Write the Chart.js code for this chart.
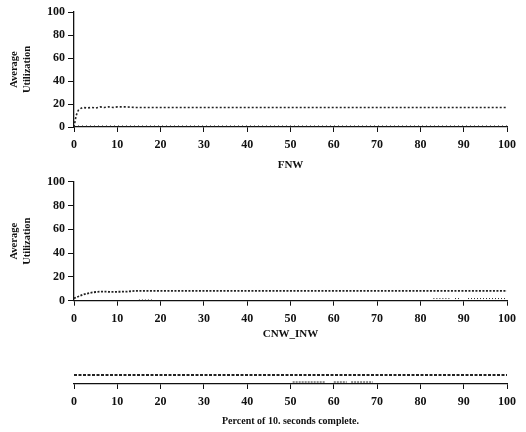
<!DOCTYPE html>
<html><head><meta charset="utf-8">
<script src="https://cdn.jsdelivr.net/npm/chart.js@4/dist/chart.umd.min.js"></script>
<style>
body{margin:0;background:#fff;}
#wrap{position:relative;width:526px;height:432px;background:#fff;}
canvas{position:absolute;left:0;}
</style>
</head><body><div id="wrap">
<canvas id="c1" width="526" height="180" style="top:0px"></canvas>
<canvas id="c2" width="526" height="180" style="top:170px"></canvas>
<canvas id="c3" width="526" height="77" style="top:355px"></canvas>
</div>
<script>
// ---- data ----
const percentX = [0, 0.5, 1, 1.5, 2, 3, 4, 5, 6, 7, 8, 9, 10, 12, 14, 16, 18, 20, 25, 30, 35, 40, 45, 50, 55, 60, 65, 70, 75, 80, 85, 90, 95, 100];
const fnwUtil  = [0, 10, 14.5, 16, 17, 16.5, 17, 16.5, 17.5, 17, 17.5, 17, 17.5, 17.5, 17, 17, 17, 17, 17, 17, 17, 17, 17, 17, 17, 17, 17, 17, 17, 17, 17, 17, 17, 17];
const fnwLow   = [0.7, 0.7, 0.7, 0.7, 0.7, 0.7, 0.7, 0.7, 0.7, 0.7, 0.7, 0.7, 0.7, 0.7, 0.7, 0.7, 0.7, 0.7, 0.7, 0.7, 0.7, 0.7, 0.7, 0.7, 0.7, 0.7, 0.7, 0.7, 0.7, 0.7, 0.7, 0.7, 0.7, 0.7];
const cnwUtil  = [2, 2.8, 3.5, 4.3, 5, 6, 6.8, 7.3, 7.6, 7.6, 7.5, 7.5, 7.5, 7.6, 8.2, 8.3, 8.3, 8.3, 8.3, 8.3, 8.3, 8.3, 8.3, 8.3, 8.3, 8.3, 8.3, 8.3, 8.3, 8.3, 8.3, 8.3, 8.3, 8.3];
const cnwLowX  = [15, 16.5, 18, 18.1, 83, 85, 87, 87.1, 88, 89, 89.1, 91, 95, 100];
const cnwLow   = [0.6, 0.6, 0.6, null, 1.8, 1.8, 1.8, null, 1.8, 1.8, null, 1.8, 1.8, 1.8];
const thirdX   = [0, 10, 20, 30, 40, 50, 60, 70, 80, 90, 100];
const thirdLine = [50, 50, 50, 50, 50, 50, 50, 50, 50, 50, 50];
const thirdLowX = [50.5, 58, 58.1, 60, 63, 63.1, 64, 69];
const thirdLow  = [11, 11, null, 11, 11, null, 11, 11];
const xTickValues = [0, 10, 20, 30, 40, 50, 60, 70, 80, 90, 100];
const yTickValues = [0, 20, 40, 60, 80, 100];
const titles = ['FNW', 'CNW_INW', 'Percent of 10. seconds complete.'];
const yTitle = ['Average', 'Utilization'];

const pts = (xs, ys) => xs.map((x, i) => ({x: x, y: ys[i]}));

Chart.defaults.font.family = "'Liberation Serif', 'Times New Roman', serif";
Chart.defaults.font.weight = 'bold';
Chart.defaults.color = '#111';

function xScale(h, title, tsize, pb) {
  return {
    type: 'linear', min: 0, max: 100,
    afterBuildTicks: s => { s.ticks = xTickValues.map(v => ({value: v})); },
    afterFit: s => { s.height = h; },
    ticks: {font: {size: 12, weight: 'bold'}, padding: 6, maxRotation: 0, color: '#111'},
    grid: {drawOnChartArea: false, drawTicks: true, tickLength: 5, color: '#111', tickWidth: 1},
    border: {display: true, color: '#111', width: 1.3},
    title: {display: true, text: title, font: {size: tsize, weight: 'bold'}, color: '#111', padding: {top: 0, bottom: pb}}
  };
}
function yScale(show) {
  if (!show) return {display: false, min: 0, max: 100};
  return {
    min: 0, max: 100,
    afterBuildTicks: s => { s.ticks = yTickValues.map(v => ({value: v})); },
    afterFit: s => { s.width = 74; },
    ticks: {font: {size: 12, weight: 'bold'}, padding: 3, color: '#111'},
    grid: {drawOnChartArea: false, drawTicks: true, tickLength: 6, color: '#111'},
    border: {display: true, color: '#111', width: 1.3},
    title: {display: true, text: yTitle, font: {size: 10.5, weight: 'bold', lineHeight: 1.3}, color: '#111', padding: {top: 7, bottom: 0}}
  };
}
function ds(data, dash, w) {
  return {data: data, borderColor: '#222', borderWidth: w, borderDash: dash, pointRadius: 0, fill: false, tension: 0, spanGaps: false};
}
function make(id, datasets, pad, xs, ys) {
  new Chart(document.getElementById(id), {
    type: 'line',
    data: {datasets: datasets},
    options: {
      responsive: false, animation: false,
      layout: {padding: pad},
      plugins: {legend: {display: false}, tooltip: {enabled: false}},
      scales: {x: xs, y: ys}
    }
  });
}

make('c1', [ds(pts(percentX, fnwUtil), [2, 2], 1.6), ds(pts(percentX, fnwLow), [1, 3], 1.2)],
  {top: 12, right: 19, left: 0, bottom: 0}, xScale(53, titles[0], 11, 8.4), yScale(true));
make('c2', [ds(pts(percentX, cnwUtil), [2, 1.5], 1.8), ds(pts(cnwLowX, cnwLow), [1, 2], 1)],
  {top: 11.7, right: 19, left: 0, bottom: 0}, xScale(49.3, titles[1], 11, 9.4), yScale(true));
make('c3', [ds(pts(thirdX, thirdLine), [3, 1.5], 2), ds(pts(thirdLowX, thirdLow), [2, 1], 1)],
  {top: 11, right: 19, left: 74, bottom: 0}, xScale(48, titles[2], 10, 5), yScale(false));
</script>
</body></html>
